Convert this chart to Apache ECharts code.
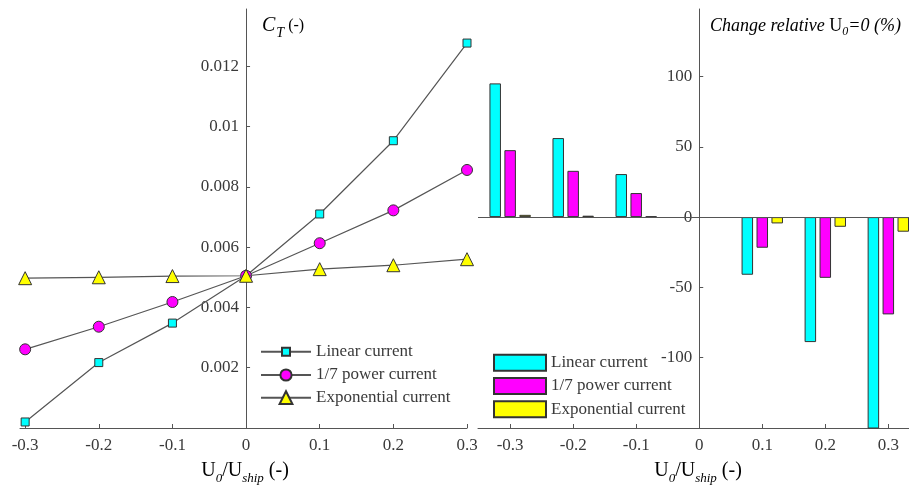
<!DOCTYPE html>
<html>
<head>
<meta charset="utf-8">
<script src="https://cdn.jsdelivr.net/npm/echarts@6/dist/echarts.min.js"></script>
<style>
html,body{margin:0;padding:0;background:#fff;}
#c{width:909px;height:487px;}
</style>
</head>
<body>
<div id="c"></div>
<script>
// ---- data ----
const xTicks = [-0.3, -0.2, -0.1, 0, 0.1, 0.2, 0.3];
const ctX = [-0.3, -0.2, -0.1, 0, 0.1, 0.2, 0.3];
const ctLinear = [0.0002, 0.00217, 0.00348, 0.00505, 0.0071, 0.00953, 0.01277];
const ctPower = [0.00261, 0.00336, 0.00418, 0.00505, 0.00613, 0.00722, 0.00856];
const ctExp = [0.00497, 0.0050, 0.00504, 0.00505, 0.00527, 0.0054, 0.0056];
const chX = [-0.3, -0.2, -0.1, 0.1, 0.2, 0.3];
const chLinear = [95.1, 56.2, 30.6, -41.0, -88.9, -153];
const chPower = [47.6, 32.9, 17.1, -21.8, -43.2, -69.2];
const chExp = [1.6, 1.0, 0.5, -4.5, -6.9, -10.4];
const seriesNames = ['Linear current', '1/7 power current', 'Exponential current'];

const FONT = 'Liberation Serif';
const TXT = '#3a3a3a';
const AX = '#555';
const cols = ['#00ffff', '#ff00ff', '#ffff00'];
const symbols = ['rect', 'circle', 'triangle'];
const symSizes = [8, 11, 13];
const legendIconH = [10, 14, 16];
const legendTops = [342.7, 366, 388.7];

// layout
const G0 = {left: 20, right: 442, top: 9, bottom: 59, min: -0.307, max: 0.3};
const G1 = {left: 478, right: 0, top: 9, bottom: 59, min: -0.351, max: 0.3328};
const W = 909;
const zeroOffset = g => {
  const w = W - g.left - g.right;
  return -(w * (0 - g.min) / (g.max - g.min));
};

const chart = echarts.init(document.getElementById('c'), null, {renderer: 'canvas'});

const pair = (xs, ys) => xs.map((x, i) => [x, ys[i]]);
const ctData = [ctLinear, ctPower, ctExp];
const chData = [chLinear, chPower, chExp];

const axisLabelBase = {color: TXT, fontFamily: FONT, fontSize: 17};

const xAxisCommon = (idx, g) => ({
  type: 'value', gridIndex: idx, min: g.min, max: g.max,
  axisLine: {show: true, onZero: false, lineStyle: {color: AX, width: 1}},
  axisTick: {show: true, inside: true, length: 4, customValues: xTicks, lineStyle: {color: AX}},
  axisLabel: Object.assign({customValues: xTicks, margin: 9}, axisLabelBase),
  splitLine: {show: false}
});
const yAxisCommon = (idx, g, min, max, interval) => ({
  type: 'value', gridIndex: idx, min: min, max: max, interval: interval,
  offset: zeroOffset(g),
  axisLine: {show: true, onZero: false, lineStyle: {color: AX}},
  axisTick: {show: true, inside: true, length: 4, lineStyle: {color: AX}},
  axisLabel: Object.assign({showMinLabel: false, showMaxLabel: false, margin: 7}, axisLabelBase),
  splitLine: {show: false}
});

const series = [];
ctData.forEach((d, i) => {
  series.push({
    name: seriesNames[i], type: 'line', xAxisIndex: 0, yAxisIndex: 0,
    data: pair(ctX, d), symbol: symbols[i], symbolSize: symSizes[i],
    itemStyle: {color: cols[i], borderColor: '#333', borderWidth: 1},
    lineStyle: {color: AX, width: 1.2}, z: 3 + i
  });
});
chData.forEach((d, i) => {
  const s = {
    name: seriesNames[i] + ' ', type: 'bar', xAxisIndex: 1, yAxisIndex: 1,
    data: pair(chX, d), barWidth: 11.5, barGap: '30%',
    itemStyle: {color: cols[i], borderColor: '#333', borderWidth: 1}
  };
  if (i === 0) {
    s.markLine = {silent: true, symbol: ['none', 'none'], label: {show: false},
      lineStyle: {color: AX, type: 'solid', width: 1}, data: [{yAxis: 0}], animation: false};
  }
  series.push(s);
});

const sub = {fontFamily: FONT, fontSize: 13, fontStyle: 'italic', color: TXT, verticalAlign: 'top', padding: [11, 0, 0, 0], lineHeight: 14};
const xName = () => ({
  style: {
    text: '{u|U}{s|0}{u|/U}{s|ship}{u| (-)}',
    rich: {
      u: {fontFamily: FONT, fontSize: 20, color: TXT, verticalAlign: 'top', lineHeight: 22},
      s: Object.assign({}, sub)
    },
    align: 'center', verticalAlign: 'top'
  }
});

const gridOf = g => ({left: g.left, right: g.right, top: g.top, bottom: g.bottom, containLabel: false, outerBoundsMode: 'none'});

const legendText = {fontFamily: FONT, fontSize: 17, color: TXT, lineHeight: 18};
const legends = seriesNames.map((n, i) => ({
  data: [n], orient: 'vertical', left: 260, top: legendTops[i], padding: 0,
  itemWidth: 50, itemHeight: legendIconH[i], selectedMode: false,
  textStyle: legendText
}));
legends.push({
  data: seriesNames.map(n => ({name: n + ' ', icon: 'rect'})), orient: 'vertical', left: 493, top: 353.7, padding: 0,
  itemWidth: 52, itemHeight: 16, itemGap: 5.3, selectedMode: false,
  formatter: n => n.trim(),
  textStyle: legendText
});

chart.setOption({
  animation: false,
  backgroundColor: '#fff',
  grid: [gridOf(G0), gridOf(G1)],
  xAxis: [xAxisCommon(0, G0), xAxisCommon(1, G1)],
  yAxis: [yAxisCommon(0, G0, 0, 0.0139, 0.002), yAxisCommon(1, G1, -150, 148, 50)],
  legend: legends,
  graphic: [
    Object.assign({type: 'text', x: 245, y: 461}, xName()),
    Object.assign({type: 'text', x: 698, y: 461}, xName()),
    {
      type: 'text', x: 262, y: 16,
      style: {
        text: '{c|C}{s|T}{p| (-)}',
        rich: {
          c: {fontFamily: FONT, fontSize: 20, fontStyle: 'italic', color: TXT, verticalAlign: 'top', lineHeight: 22},
          s: {fontFamily: FONT, fontSize: 14, fontStyle: 'italic', color: TXT, verticalAlign: 'top', padding: [10, 0, 0, 1], lineHeight: 15},
          p: {fontFamily: FONT, fontSize: 16, color: TXT, verticalAlign: 'top', lineHeight: 18, padding: [2, 0, 0, 0]}
        }
      }
    },
    {
      type: 'text', x: 710, y: 17,
      style: {
        text: '{i|Change relative }{u|U}{s|0}{i|=0 (%)}',
        rich: {
          i: {fontFamily: FONT, fontSize: 18, fontStyle: 'italic', color: TXT, verticalAlign: 'top', lineHeight: 20},
          u: {fontFamily: FONT, fontSize: 18, color: TXT, verticalAlign: 'top', lineHeight: 20},
          s: {fontFamily: FONT, fontSize: 12, fontStyle: 'italic', color: TXT, verticalAlign: 'top', padding: [9, 0, 0, 0], lineHeight: 13}
        }
      }
    }
  ],
  series: series
});
</script>
</body>
</html>
